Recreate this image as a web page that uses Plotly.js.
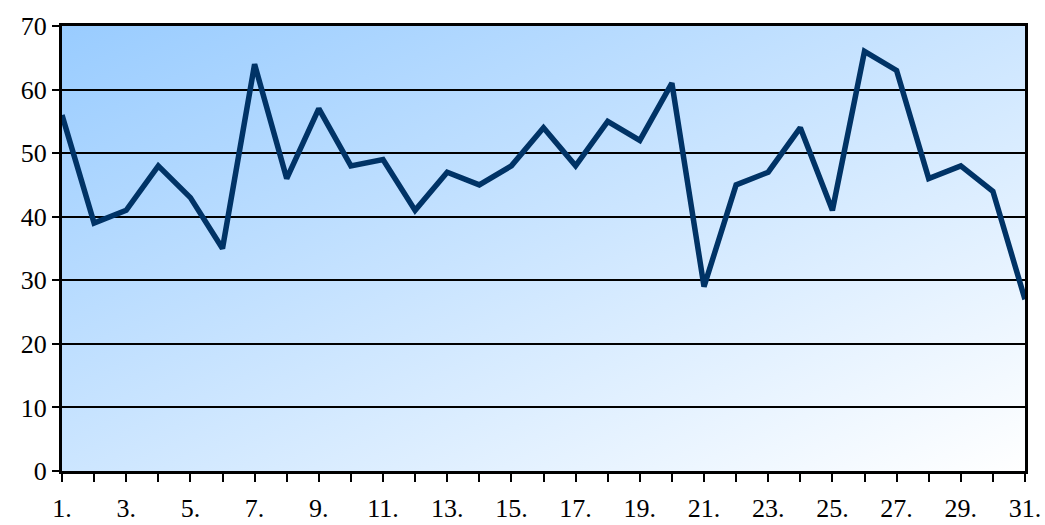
<!DOCTYPE html>
<html>
<head>
<meta charset="utf-8">
<script src="https://cdn.plot.ly/plotly-3.0.1.min.js"></script>
<style>html,body{margin:0;padding:0;background:#fff;}#chart{width:1045px;height:525px;}</style>
</head>
<body>
<div id="chart"></div>
<script>
const days = [1,2,3,4,5,6,7,8,9,10,11,12,13,14,15,16,17,18,19,20,21,22,23,24,25,26,27,28,29,30,31];
const values = [56,39,41,48,43,35,64,46,57,48,49,41,47,45,48,54,48,55,52,61,29,45,47,54,41,66,63,46,48,44,27];
const tickLabels = ['1.','','3.','','5.','','7.','','9.','','11.','','13.','','15.','','17.','','19.','','21.','','23.','','25.','','27.','','29.','','31.'];
const yTicks = [0,10,20,30,40,50,60,70];

const svg = '<svg xmlns="http://www.w3.org/2000/svg" width="1000" height="1000" preserveAspectRatio="none">' +
  '<defs><linearGradient id="g" x1="0" y1="0" x2="1" y2="1">' +
  '<stop offset="0" stop-color="#99CCFF"/><stop offset="1" stop-color="#FFFFFF"/></linearGradient></defs>' +
  '<rect width="1000" height="1000" fill="url(#g)"/></svg>';
const bg = 'data:image/svg+xml;base64,' + btoa(svg);

const trace = {
  x: days, y: values, type: 'scatter', mode: 'lines',
  line: {color: '#003366', width: 5.5}, hoverinfo: 'x+y'
};
const layout = {
  width: 1045, height: 525,
  margin: {l: 62, r: 20, t: 26, b: 54},
  paper_bgcolor: '#ffffff', plot_bgcolor: 'rgba(0,0,0,0)',
  font: {family: '"Liberation Serif", "Times New Roman", serif', size: 26, color: '#000'},
  showlegend: false,
  images: [{source: bg, xref: 'paper', yref: 'paper', x: 0, y: 1, sizex: 1, sizey: 1,
            sizing: 'stretch', layer: 'below', xanchor: 'left', yanchor: 'top'}],
  xaxis: {
    range: [1, 31], tickmode: 'array', tickvals: days, ticktext: tickLabels,
    showgrid: false, zeroline: false, showline: true, linecolor: '#000', linewidth: 3, mirror: true,
    ticks: 'outside', ticklen: 8, tickwidth: 2, tickcolor: '#000', tickangle: 0,
    ticklabelstandoff: 4, fixedrange: true
  },
  yaxis: {
    range: [0, 70], tickmode: 'array', tickvals: yTicks,
    showgrid: true, gridcolor: '#000', gridwidth: 2, zeroline: false,
    showline: true, linecolor: '#000', linewidth: 3, mirror: true,
    ticks: 'outside', ticklen: 7, tickwidth: 2, tickcolor: '#000',
    fixedrange: true
  }
};
Plotly.newPlot('chart', [trace], layout, {displayModeBar: false, staticPlot: true});
</script>
</body>
</html>
